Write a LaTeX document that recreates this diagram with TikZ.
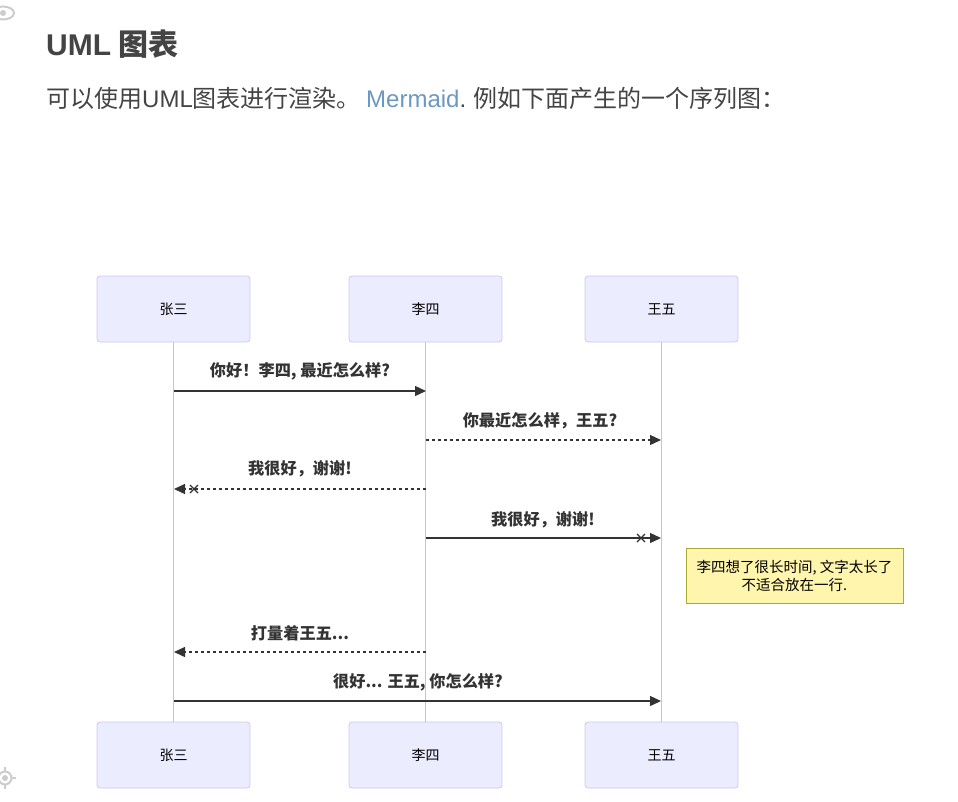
\documentclass[tikz,border=0pt]{standalone}
\usepackage{fontspec}
\setmainfont{Noto Sans CJK SC}
\newfontfamily\latinsans{Liberation Sans}
\usetikzlibrary{arrows.meta}
\definecolor{actfill}{HTML}{ECECFF}
\definecolor{actline}{HTML}{CFC6F5}
\definecolor{lifecol}{HTML}{C8BCF6}
\definecolor{msgcol}{HTML}{333333}
\definecolor{notefill}{HTML}{FFF5AD}
\definecolor{noteline}{HTML}{AAAA33}
\definecolor{txtcol}{HTML}{444444}
\definecolor{linkcol}{HTML}{6A98C0}
\definecolor{iconcol}{HTML}{CCCCCC}
\tikzset{
  actor/.style={draw=actline, fill=actfill, rounded corners=3pt, line width=0.8pt,
    minimum width=153pt, minimum height=66pt, inner sep=0pt, font=\fontsize{14}{16}\selectfont, text=black},
  life/.style={draw=lifecol, line width=1.7pt},
  msg/.style={draw=msgcol, line width=1.3pt, -{Triangle[length=11pt,width=10pt]}},
  dmsg/.style={msg, dash pattern=on 3pt off 3pt},
  lbl/.style={font=\bfseries\fontsize{16.2}{18}\selectfont, text=msgcol, inner sep=0pt},
  crs/.style={draw=msgcol, line width=1.2pt},
  notebox/.style={draw=noteline, fill=notefill, line width=0.8pt, minimum width=217pt, minimum height=55pt,
    inner sep=0pt, align=center, font=\fontsize{14.5}{18}\selectfont, text=black}
}
\begin{document}
\begin{tikzpicture}[x=1pt,y=-1pt]
\useasboundingbox (0,0) rectangle (958,801);
% icons
\draw[iconcol, line width=2pt] (3,13) ellipse [x radius=11, y radius=6.5];
\fill[iconcol] (3,13) circle (3);
\draw[iconcol, line width=2pt] (5,778) circle (6.5);
\fill[iconcol] (5,778) circle (3);
\draw[iconcol, line width=2pt] (5,767) -- (5,771) (5,785) -- (5,789) (12,778) -- (16,778);
% header
\node[anchor=west, inner sep=0pt, text=txtcol, font=\bfseries\fontsize{30}{34}\selectfont] (title) at (46,44) {{\latinsans UML} 图表};
\node[anchor=west, inner sep=0pt, text=txtcol, font=\fontsize{24}{28}\selectfont] (para) at (46,98)
  {可以使用{\latinsans UML}图表进行渲染。 \textcolor{linkcol}{\latinsans Mermaid}{\latinsans .} 例如下面产生的一个序列图：};
% actors
\node[actor] (a1) at (173.5,309) {张三};
\node[actor] (a2) at (425.5,309) {李四};
\node[actor] (a3) at (661.5,309) {王五};
\node[actor] (b1) at (173.5,755) {张三};
\node[actor] (b2) at (425.5,755) {李四};
\node[actor] (b3) at (661.5,755) {王五};
\draw[life] (a1.south) -- (b1.north);
\draw[life] (a2.south) -- (b2.north);
\draw[life] (a3.south) -- (b3.north);
% coordinates on lifelines
\coordinate (z1) at (174,391); \coordinate (l1) at (426,391);
\coordinate (l2) at (426,440); \coordinate (w2) at (661,440);
\coordinate (l3) at (426,489); \coordinate (z3) at (174,489);
\coordinate (l4) at (426,538); \coordinate (w4) at (661,538);
\coordinate (l5) at (426,652); \coordinate (z5) at (174,652);
\coordinate (z6) at (174,701); \coordinate (w6) at (661,701);
% messages
\draw[msg] (z1) -- (l1);
\node[lbl] (m1) at (300,371) {你好！李四, 最近怎么样?};
\draw[dmsg] (l2) -- (w2);
\node[lbl] (m2) at (540,421) {你最近怎么样，王五?};
\draw[dmsg] (l3) -- (z3);
\draw[crs] (190,485) -- (198,493) (190,493) -- (198,485);
\node[lbl] (m3) at (300,469) {我很好，谢谢!};
\draw[msg] (l4) -- (w4);
\draw[crs] (637,534) -- (645,542) (637,542) -- (645,534);
\node[lbl] (m4) at (543,520) {我很好，谢谢!};
\node[notebox] (note) at (794.5,575.5) {李四想了很长时间, 文字太长了\\不适合放在一行.};
\draw[dmsg] (l5) -- (z5);
\node[lbl] (m5) at (300,633) {打量着王五...};
\draw[msg] (z6) -- (w6);
\node[lbl] (m6) at (418,682) {很好... 王五, 你怎么样?};
\end{tikzpicture}
\end{document}
